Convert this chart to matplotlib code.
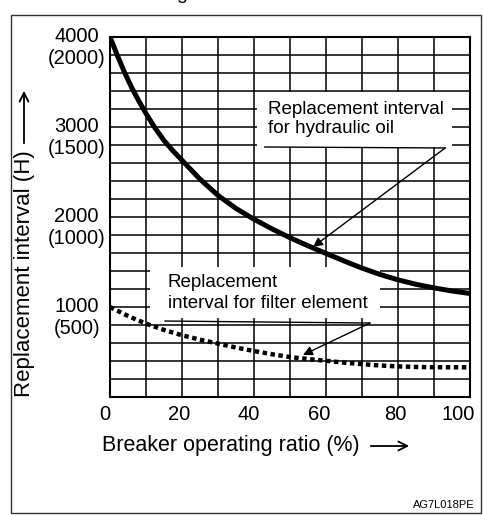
import matplotlib
matplotlib.use('Agg')
import matplotlib.pyplot as plt
from matplotlib.patches import Rectangle
from matplotlib.transforms import ScaledTranslation

plt.rcParams['font.family'] = ['Liberation Sans', 'DejaVu Sans']

# breaker operating ratio (%) vs hydraulic oil replacement interval (H)
ratio = [0, 2, 4, 6, 8, 10, 12.5, 15, 17.5, 20, 25, 30, 35, 40, 45, 50, 55, 60, 65, 70,
         75, 80, 85, 90, 95, 100]
oil_hours = [4000, 3800, 3610, 3440, 3290, 3150, 2990, 2850, 2735, 2630, 2420, 2240, 2095,
             1975, 1868, 1770, 1680, 1595, 1512, 1432, 1362, 1302, 1252, 1212, 1178, 1150]

# filter element replacement interval (H)
filter_ratio = [0, 5, 10, 15, 20, 25, 30, 35, 40, 45, 50, 55, 60, 65, 70, 75, 80, 85, 90, 95, 100]
filter_hours = [1000, 900, 815, 745, 686, 637, 593, 550, 511, 475, 444, 422, 402, 382, 365,
                350, 340, 334, 331, 330, 330]

xticks = [0, 20, 40, 60, 80, 100]
yticks = [1000, 2000, 3000, 4000]
yticks_sub = ['(500)', '(1000)', '(1500)', '(2000)']

fig = plt.figure(figsize=(4.83, 5.16), dpi=100)
ax = fig.add_axes([110 / 483, 1 - 397 / 516, 360 / 483, 360 / 516])
ax.set_xlim(0, 100)
ax.set_ylim(0, 4000)

# square grid, every 10 % and every 200 h
for gx in range(10, 100, 10):
    ax.axvline(gx, color='black', lw=1.1, zorder=1)
for gy in range(200, 4000, 200):
    ax.axhline(gy, color='black', lw=1.1, zorder=1)
for s in ax.spines.values():
    s.set_linewidth(1.5)

ax.set_xticks(xticks)
ax.set_xticklabels([str(v) for v in xticks], fontsize=14.5)
ax.set_yticks([])
ax.tick_params(axis='x', length=0, pad=6)
shifts = [-5, -3, -5, -7, -3, -12]
for lab, dx in zip(ax.get_xticklabels(), shifts):
    lab.set_transform(lab.get_transform() + ScaledTranslation(dx / 100, 0, fig.dpi_scale_trans))

for v, sub in zip(yticks, yticks_sub):
    ax.annotate(str(v), xy=(0, v), xycoords=('axes fraction', 'data'),
                xytext=(-24, 0), textcoords='offset points',
                ha='center', va='center', fontsize=14.5)
    ax.annotate(sub, xy=(0, v), xycoords=('axes fraction', 'data'),
                xytext=(-24, -15.5), textcoords='offset points',
                ha='center', va='center', fontsize=14.5)

# curves
ax.plot(ratio, oil_hours, color='black', lw=3.6, zorder=4, solid_capstyle='butt',
        solid_joinstyle='round')
ax.plot(filter_ratio, filter_hours, color='black', lw=3.2, zorder=4,
        linestyle=(0, (1.0, 0.8)), dash_capstyle='butt')

# label boxes over the grid
ax.add_patch(Rectangle((40.8, 2778), 54.2, 611, facecolor='white', edgecolor='none', zorder=2))
ax.add_patch(Rectangle((11.1, 878), 63.9, 570, facecolor='white', edgecolor='none', zorder=2))

ax.text(43.9, 3090, 'Replacement interval\nfor hydraulic oil', fontsize=13.5,
        ha='left', va='center', linespacing=1.15, zorder=5)
ax.plot([43, 93.1], [2778, 2767], color='black', lw=1.0, zorder=5)
ax.annotate('', xy=(56.4, 1667), xytext=(93.1, 2767),
            arrowprops=dict(arrowstyle='-|>', color='black', lw=1.0,
                            mutation_scale=14, shrinkA=0, shrinkB=0), zorder=5)

ax.text(16.1, 1160, 'Replacement\ninterval for filter element', fontsize=13.5,
        ha='left', va='center', linespacing=1.3, zorder=5)
ax.plot([15.3, 72.2], [844, 822], color='black', lw=1.0, zorder=5)
ax.annotate('', xy=(53.6, 467), xytext=(72.2, 822),
            arrowprops=dict(arrowstyle='-|>', color='black', lw=1.0,
                            mutation_scale=14, shrinkA=0, shrinkB=0), zorder=5)

# axis titles with long arrows
fig.text(102 / 483, 1 - 445 / 516, 'Breaker operating ratio (%)',
         fontsize=15.5, ha='left', va='center')
fig.add_artist(matplotlib.patches.FancyArrowPatch(
    (368 / 483, 1 - 446 / 516), (412 / 483, 1 - 446 / 516), transform=fig.transFigure,
    arrowstyle='->', mutation_scale=16, lw=1.3, color='black'))

fig.text(25 / 483, 1 - 397 / 516, 'Replacement interval (H)',
         fontsize=16, rotation=90, ha='center', va='bottom')
fig.add_artist(matplotlib.patches.FancyArrowPatch(
    (24 / 483, 1 - 146 / 516), (24 / 483, 1 - 88 / 516), transform=fig.transFigure,
    arrowstyle='->', mutation_scale=16, lw=1.3, color='black'))

fig.text(475 / 483, 1 - 505 / 516, 'AG7L018PE', fontsize=8, ha='right', va='center')
fig.text(176 / 483, 1 + 1 / 516, 'g', fontsize=14, ha='left', va='baseline')

# outer frame
fig.add_artist(Rectangle((11 / 483, 3 / 516), 470 / 483, 498 / 516, transform=fig.transFigure,
                         fill=False, edgecolor='#333333', lw=1.0))

fig.savefig('out.png', dpi=100)
